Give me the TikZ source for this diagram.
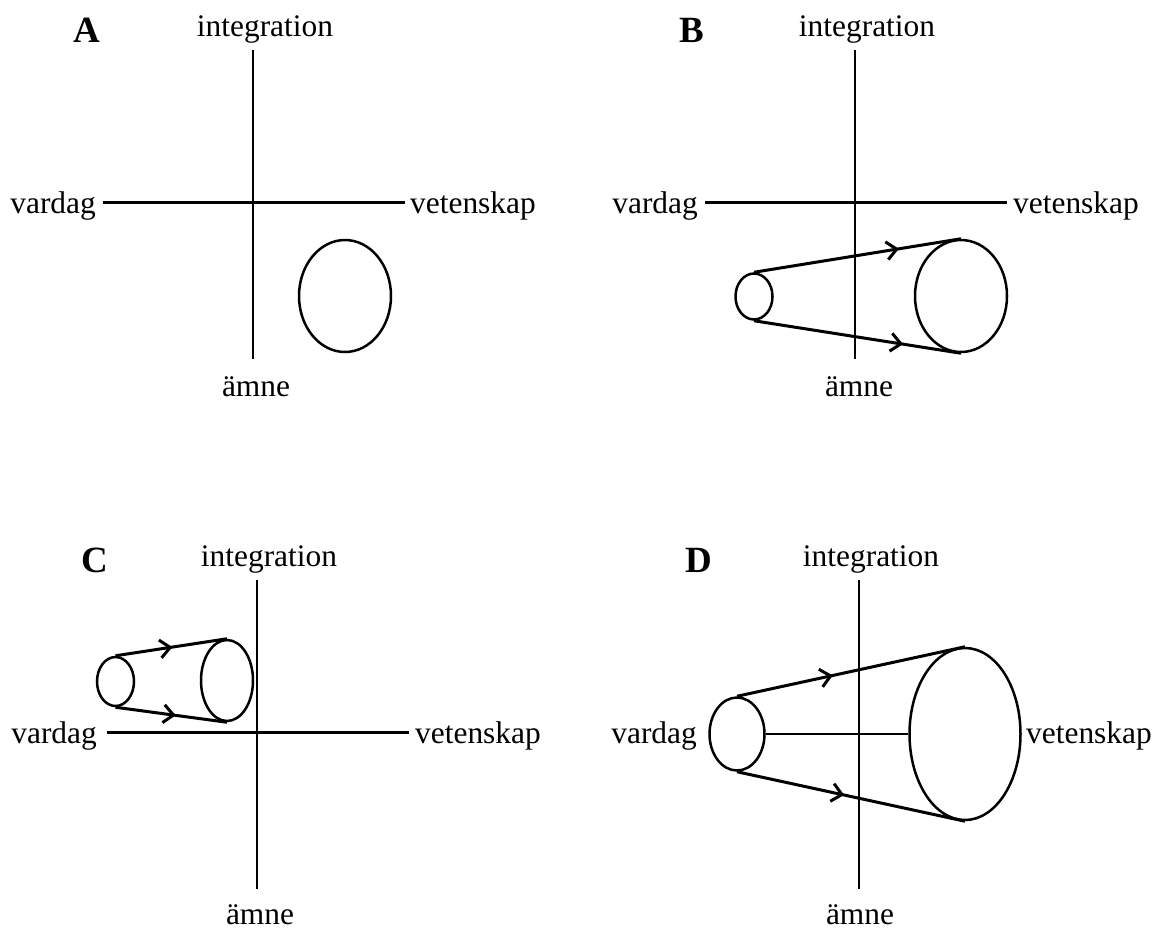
\documentclass[tikz,border=0pt]{standalone}
\usepackage{fontspec}
\setmainfont{Liberation Serif}
\usetikzlibrary{shapes.geometric,arrows.meta,decorations.markings}
\tikzset{
  axisline/.style={line width=2.8pt},
  oval/.style={ellipse, draw, line width=2.5pt, inner sep=0pt},
  cone/.style={line width=3pt, postaction={decorate},
    decoration={markings, mark=at position #1 with {\arrow{Straight Barb[length=10pt,width=18pt]}}}},
  txt/.style={font=\fontsize{31.4}{36}\selectfont, inner sep=0pt},
  panel/.style={font=\fontsize{37}{42}\selectfont\bfseries, inner sep=0pt}
}
\begin{document}
\begin{tikzpicture}[x=1pt,y=-1pt]
\useasboundingbox[fill=white] (0,0) rectangle (1157,930);

% ---------- Panel A ----------
\node[panel, anchor=base] (labA) at (86.5,42) {A};
\node[txt, anchor=base] (intA) at (265,36) {integration};
\node[txt, anchor=base east] (vaA) at (96,213) {vardag};
\node[txt, anchor=base west] (veA) at (410,213) {vetenskap};
\node[txt, anchor=base] (amA) at (256,396) {ämne};
\coordinate (tA) at (253,50); \coordinate (bA) at (253,359);
\coordinate (lA) at (103,202.5); \coordinate (rA) at (405,202.5);
\draw[axisline] (tA) -- (bA);
\draw[axisline] (lA) -- (rA);
\node[oval, minimum width=92pt, minimum height=112pt] (eA) at (345,296) {};

% ---------- Panel B ----------
\node[panel, anchor=base] (labB) at (692,42) {B};
\node[txt, anchor=base] (intB) at (867,36) {integration};
\node[txt, anchor=base east] (vaB) at (698,213) {vardag};
\node[txt, anchor=base west] (veB) at (1013,213) {vetenskap};
\node[txt, anchor=base] (amB) at (859,396) {ämne};
\coordinate (tB) at (855,50); \coordinate (bB) at (855,359);
\coordinate (lB) at (705,202.5); \coordinate (rB) at (1007,202.5);
\draw[axisline] (tB) -- (bB);
\draw[axisline] (lB) -- (rB);
\node[oval, minimum width=37pt, minimum height=46pt] (sB) at (754,296.5) {};
\node[oval, minimum width=92pt, minimum height=112pt] (gB) at (961,296) {};
\draw[cone=0.7] (sB.north) -- (gB.north);
\draw[cone=0.72] (sB.south) -- (gB.south);

% ---------- Panel C ----------
\node[panel, anchor=base] (labC) at (95,572) {C};
\node[txt, anchor=base] (intC) at (269,566) {integration};
\node[txt, anchor=base east] (vaC) at (97,743) {vardag};
\node[txt, anchor=base west] (veC) at (415,743) {vetenskap};
\node[txt, anchor=base] (amC) at (260,924) {ämne};
\coordinate (tC) at (257,580); \coordinate (bC) at (257,889);
\coordinate (lC) at (107,732.5); \coordinate (rC) at (409,732.5);
\draw[axisline] (tC) -- (bC);
\draw[axisline] (lC) -- (rC);
\node[oval, minimum width=37pt, minimum height=49pt] (sC) at (115.5,681.5) {};
\node[oval, minimum width=52pt, minimum height=81pt] (gC) at (227,680.5) {};
\draw[cone=0.51] (sC.north) -- (gC.north);
\draw[cone=0.54] (sC.south) -- (gC.south);

% ---------- Panel D ----------
\node[panel, anchor=base] (labD) at (699,572) {D};
\node[txt, anchor=base] (intD) at (871,566) {integration};
\node[txt, anchor=base east] (vaD) at (697,743) {vardag};
\node[txt, anchor=base west] (veD) at (1026,743) {vetenskap};
\node[txt, anchor=base] (amD) at (860,924) {ämne};
\coordinate (tD) at (859,580); \coordinate (bD) at (859,889);
\draw[axisline] (tD) -- (bD);
\node[oval, minimum width=55pt, minimum height=73pt] (sD) at (737,734) {};
\node[oval, minimum width=111pt, minimum height=172pt] (gD) at (965,734) {};
\draw[axisline] (sD.east) -- (gD.west);
\draw[cone=0.42] (sD.north) -- (gD.north);
\draw[cone=0.47] (sD.south) -- (gD.south);
\end{tikzpicture}
\end{document}
